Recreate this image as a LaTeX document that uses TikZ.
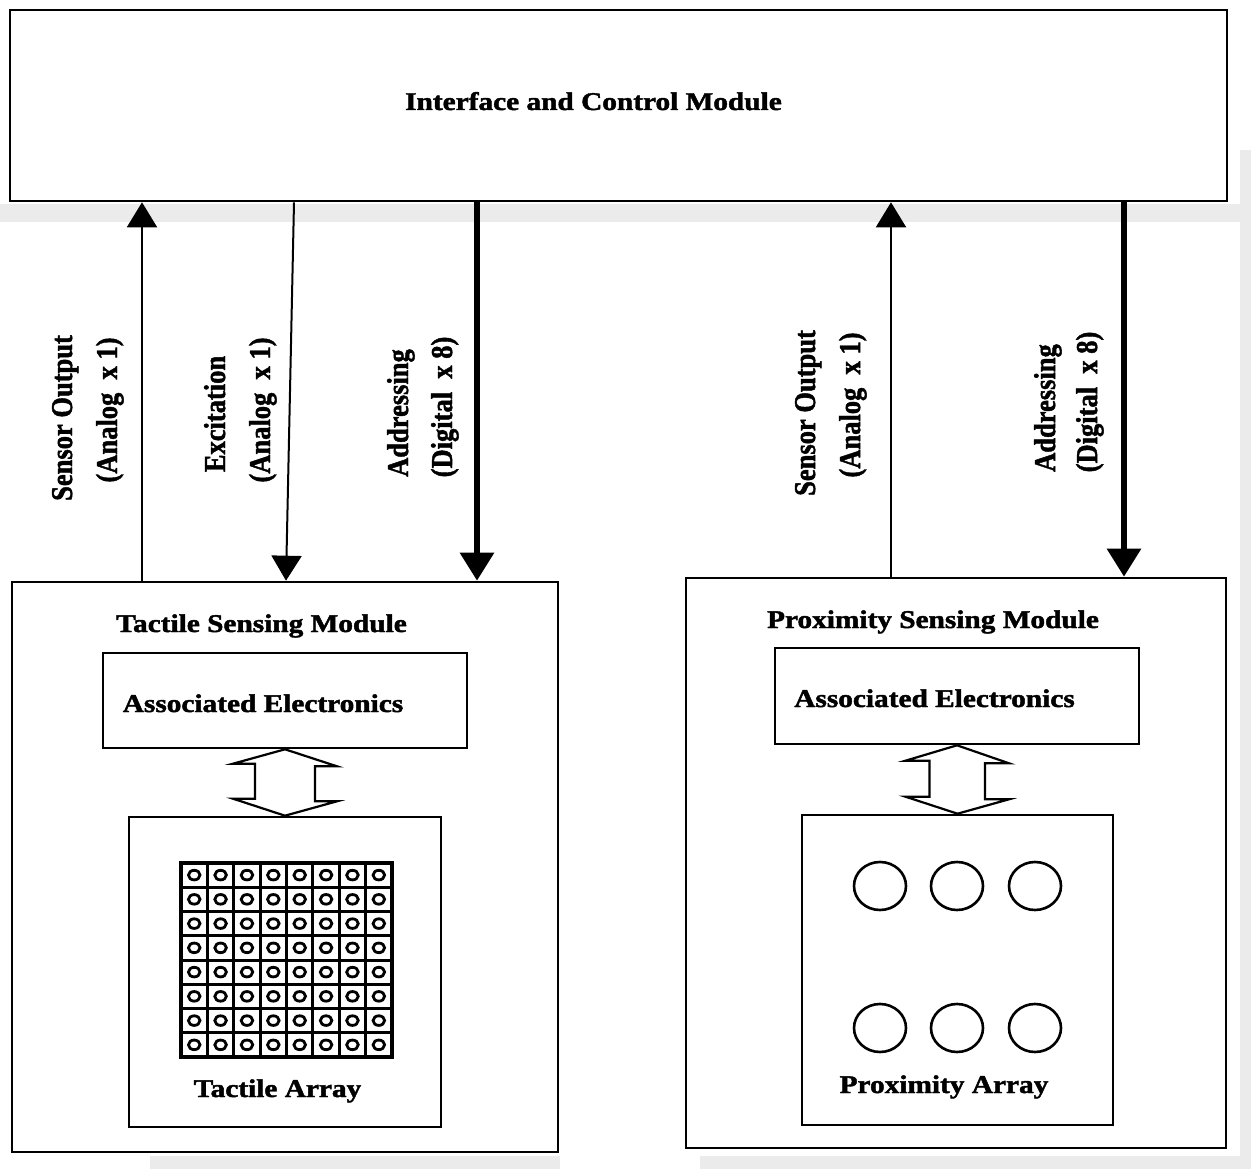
\documentclass[tikz,border=0pt]{standalone}
\usepackage{fontspec}
\usepackage{graphicx}
\setmainfont{Liberation Serif}[BoldFeatures={FakeBold=1.6}]
\usetikzlibrary{arrows.meta}

% horizontal labels are set a little wide, vertical labels a little thick
\newcommand{\widetext}[1]{\scalebox{1.15}[1]{#1}}
\newcommand{\thicktext}[1]{\scalebox{1}[1.14]{#1}}

\tikzset{
  box/.style={draw, rectangle, line width=2.6pt, inner sep=0pt},
  htext/.style={font=\bfseries\fontsize{25.5}{30}\selectfont, inner sep=0pt, anchor=base},
  vtext/.style={font=\bfseries\fontsize{26.5}{30}\selectfont, inner sep=0pt, anchor=base, rotate=90},
  thinarrow/.style={line width=2pt, -{Triangle[length=25pt,width=30pt]}},
  thickarrow/.style={line width=6pt, -{Triangle[length=28pt,width=33pt]}},
  dblarrow/.style={line width=2.2pt, line join=miter, fill=white},
  cell/.style={line width=3pt},
  ring/.style={line width=2.8pt},
  bigring/.style={line width=2.6pt},
  haze/.style={fill=black!8, draw=none}
}

\begin{document}
\begin{tikzpicture}[x=1pt, y=-1pt]
  \useasboundingbox (0,0) rectangle (1251,1169);

  % faint speckled bands of the printed page
  \fill[haze] (0,204) rectangle (1251,222);
  \fill[haze] (1240,150) rectangle (1251,1169);
  \fill[haze] (150,1156) rectangle (560,1169);
  \fill[haze] (700,1156) rectangle (1251,1169);

  % main blocks
  \node[box, fill=white, minimum width=1217pt, minimum height=191pt] (icm) at (618.5,105.5) {};
  \node[box, minimum width=546pt, minimum height=570pt] (tsm) at (285,867) {};
  \node[box, minimum width=540pt, minimum height=570pt] (psm) at (956,863) {};

  % inner blocks
  \node[box, minimum width=364pt, minimum height=95pt] (tae) at (285,700.5) {};
  \node[box, minimum width=312pt, minimum height=310pt] (tarr) at (285,972) {};
  \node[box, minimum width=364pt, minimum height=96pt] (pae) at (957,696) {};
  \node[box, minimum width=311pt, minimum height=310pt] (parr) at (957.5,970) {};

  % titles
  \node[htext] (icmtxt) at (593.5,110) {\widetext{Interface and Control Module}};
  \node[htext] (tsmtxt) at (261.5,632) {\widetext{Tactile Sensing Module}};
  \node[htext] (psmtxt) at (933,628) {\widetext{Proximity Sensing Module}};
  \node[htext] (taetxt) at (263,712) {\widetext{Associated Electronics}};
  \node[htext] (paetxt) at (934.5,707) {\widetext{Associated Electronics}};
  \node[htext] (tarrtxt) at (277.5,1097) {\widetext{Tactile Array}};
  \node[htext] (parrtxt) at (944,1093) {\widetext{Proximity Array}};

  % signal columns
  \coordinate (cso1) at (142,0);
  \coordinate (cexT) at (294,0);
  \coordinate (cexB) at (286,0);
  \coordinate (cad1) at (477,0);
  \coordinate (cso2) at (891,0);
  \coordinate (cad2) at (1124,0);

  % signal lines
  \draw[thinarrow] (tsm.north -| cso1) -- (icm.south -| cso1);
  \draw[thinarrow] (icm.south -| cexT) -- (tsm.north -| cexB);
  \draw[thickarrow] (icm.south -| cad1) -- (tsm.north -| cad1);
  \draw[thinarrow] (psm.north -| cso2) -- (icm.south -| cso2);
  \draw[thickarrow] (icm.south -| cad2) -- (psm.north -| cad2);

  % signal labels
  \node[vtext] (l1a) at (72,418) {\thicktext{Sensor Output}};
  \node[vtext] (l1b) at (117,410) {\thicktext{(Analog~~x 1)}};
  \node[vtext] (l2a) at (225,414) {\thicktext{Excitation}};
  \node[vtext] (l2b) at (270,410) {\thicktext{(Analog~~x 1)}};
  \node[vtext] (l3a) at (408,413) {\thicktext{Addressing}};
  \node[vtext] (l3b) at (452,407) {\thicktext{(Digital~~x 8)}};
  \node[vtext] (l4a) at (815,413) {\thicktext{Sensor Output}};
  \node[vtext] (l4b) at (860,405) {\thicktext{(Analog~~x 1)}};
  \node[vtext] (l5a) at (1055,408) {\thicktext{Addressing}};
  \node[vtext] (l5b) at (1097,402) {\thicktext{(Digital~~x 8)}};

  % two-way links between electronics and arrays
  \draw[dblarrow] (tae.south) -- ++(52,17) -- ++(-22,0) -- ++(0,35) -- ++(22,0)
    -- (tarr.north) -- ++(-52,-17) -- ++(22,0) -- ++(0,-35) -- ++(-22,0) -- cycle;
  \draw[dblarrow] (pae.south) -- ++(52,18) -- ++(-24,0) -- ++(0,36) -- ++(24,0)
    -- (parr.north) -- ++(-52,-17) -- ++(24,0) -- ++(0,-36) -- ++(-24,0) -- cycle;

  % 8 x 8 tactile array
  \foreach \i in {0,...,8} {
    \draw[cell] (181+\i*26.375,863) -- (181+\i*26.375,1057);
    \draw[cell] (181,863+\i*24.25) -- (392,863+\i*24.25);
  }
  \draw[line width=3.4pt] (181,863) rectangle (392,1057);
  \foreach \i in {0,...,7} {
    \foreach \j in {0,...,7} {
      \draw[ring] (194.2+\i*26.375,875.1+\j*24.25) ellipse [x radius=5.8, y radius=4.8];
    }
  }

  % proximity array of six sensors
  \foreach \cx in {880,957,1035} {
    \foreach \cy in {886,1028} {
      \draw[bigring] (\cx,\cy) ellipse [x radius=26, y radius=24];
    }
  }
\end{tikzpicture}
\end{document}
